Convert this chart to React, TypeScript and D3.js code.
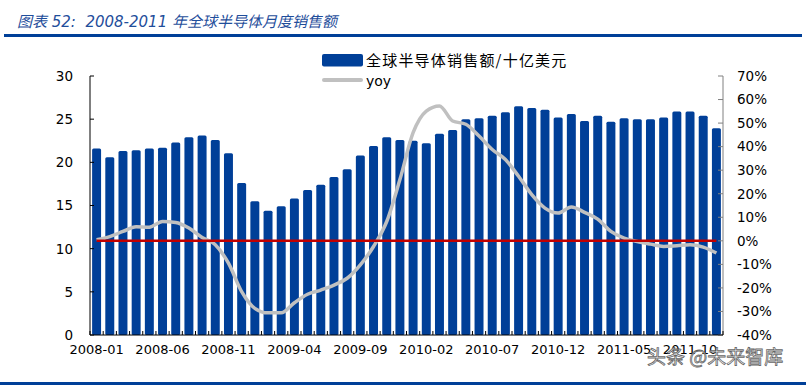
import React from "react";
import * as d3 from "d3";

// monthly data, 2008-01 .. 2011-12
const months: string[] = [];
for (let y = 2008; y <= 2011; y++) {
  for (let m = 1; m <= 12; m++) months.push(`${y}-${String(m).padStart(2, "0")}`);
}

// 全球半导体销售额 / 十亿美元
const sales = [
  21.6, 20.6, 21.3, 21.4, 21.6, 21.7, 22.3, 22.9, 23.1, 22.6, 21.05, 17.6,
  15.5, 14.4, 14.9, 15.8, 16.8, 17.4, 18.3, 19.2, 20.8, 21.9, 22.9, 22.6,
  22.5, 22.2, 23.3, 23.75, 25.0, 25.1, 25.4, 25.8, 26.5, 26.3, 26.1, 25.2,
  25.6, 24.8, 25.4, 24.7, 25.1, 25.0, 25.0, 25.2, 25.9, 25.9, 25.4, 23.95,
];

// yoy, %
const yoy = [
  0.5, 1.8, 4.0, 6.0, 5.8, 8.2, 7.8, 5.4, 1.4, -1.7, -9.5, -21.6,
  -28.7, -30.6, -30.6, -26.3, -22.7, -20.9, -18.8, -15.9, -10.2, -2.4, 8.2, 26.0,
  45.9, 55.1, 57.3, 50.9, 49.5, 44.5, 38.8, 34.5, 27.4, 19.6, 13.9, 11.8,
  14.4, 12.1, 9.2, 4.0, 1.1, -0.3, -1.4, -2.4, -2.1, -1.7, -2.7, -5.2,
];

const leftTicks = [0, 5, 10, 15, 20, 25, 30];
const rightTicks = [-40, -30, -20, -10, 0, 10, 20, 30, 40, 50, 60, 70];
const labelEvery = 5;

const W = 806;
const H = 385;
const BLUE = "#003f98";
const FONT = "'DejaVu Sans', 'Noto Sans CJK SC', sans-serif";
const CJK = "'Noto Sans CJK SC', sans-serif";

const App = () => {
  const x = d3.scaleBand<string>()
    .domain(months)
    .range([90, 723])
    .paddingInner(0.32)
    .paddingOuter(0.16);
  const yL = d3.scaleLinear().domain([0, 30]).range([335, 76]);
  const yR = d3.scaleLinear().domain([-40, 70]).range([335, 76]);
  const cx = (m: string) => (x(m) as number) + x.bandwidth() / 2;

  const yoyLine = d3.line<number>()
    .x((_, i) => cx(months[i]))
    .y(d => yR(d))
    .curve(d3.curveMonotoneX)(yoy);

  const step = x.step();
  const bounds = d3.range(months.length + 1).map(i => 90 + i * step);

  return (
    <svg width={W} height={H} style={{ position: "absolute", left: 0, top: 0, background: "#fff" }}>
      {/* title */}
      <text x={17} y={27} fontSize={15} fontStyle="italic" fill="#1f4e9b" fontFamily={FONT}
        style={{ whiteSpace: "pre" }}>
        {"图表 52:  2008-2011 年全球半导体月度销售额"}
      </text>
      <rect x={4} y={34} width={798} height={3} fill={BLUE} />
      <rect x={0} y={382} width={W} height={3} fill={BLUE} />

      {/* legend */}
      <rect x={322} y={54} width={41} height={12.5} rx={2} fill={BLUE} />
      <text x={366} y={66} fontSize={15} letterSpacing={1.2} fontFamily={CJK} fill="#000">全球半导体销售额/十亿美元</text>
      <line x1={324} x2={361} y1={80} y2={80} stroke="#c0c0c0" strokeWidth={4} strokeLinecap="round" />
      <text x={366} y={86} fontSize={14} fontFamily={FONT} fill="#000">yoy</text>

      {/* bars */}
      {sales.map((v, i) => (
        <rect key={i} x={x(months[i])} y={yL(v)} width={x.bandwidth()} height={335 - yL(v)}
          rx={1.5} fill={BLUE} />
      ))}

      {/* yoy */}
      <path d={yoyLine || ""} fill="none" stroke="#c0c0c0" strokeWidth={3.5} strokeLinejoin="round" />

      {/* zero line */}
      <line x1={cx(months[0])} x2={cx(months[months.length - 1])} y1={yR(0)} y2={yR(0)}
        stroke="#c00000" strokeWidth={2.5} />

      {/* left axis */}
      <line x1={90} x2={90} y1={76} y2={335} stroke="#000" />
      {leftTicks.map(t => (
        <g key={t}>
          <line x1={90} x2={94} y1={yL(t)} y2={yL(t)} stroke="#000" />
          <text x={73} y={yL(t)} dy="0.36em" textAnchor="end" fontSize={13.5} fontFamily={FONT}>{t}</text>
        </g>
      ))}

      {/* right axis */}
      <line x1={723} x2={723} y1={76} y2={335} stroke="#808080" />
      {rightTicks.map(t => (
        <g key={t}>
          <line x1={718} x2={723} y1={yR(t)} y2={yR(t)} stroke="#808080" />
          <text x={737} y={yR(t)} dy="0.36em" textAnchor="start" fontSize={13.5} fontFamily={FONT}>{t}%</text>
        </g>
      ))}

      {/* bottom axis */}
      <line x1={90} x2={723} y1={335} y2={335} stroke="#000" />
      {bounds.map((b, i) => (
        <line key={i} x1={b} x2={b} y1={331} y2={335} stroke="#000" />
      ))}
      {months.map((m, i) => i % labelEvery === 0 ? (
        <text key={m} x={cx(m)} y={354} textAnchor="middle" fontSize={13} fontFamily={FONT}>{m}</text>
      ) : null)}

      {/* watermark */}
      <text x={647} y={364} fontSize={19} fontFamily={CJK} fill="#fff" stroke="#555" strokeWidth={0.8}
        opacity={0.9}>头条 @未来智库</text>
    </svg>
  );
};

export default App;
